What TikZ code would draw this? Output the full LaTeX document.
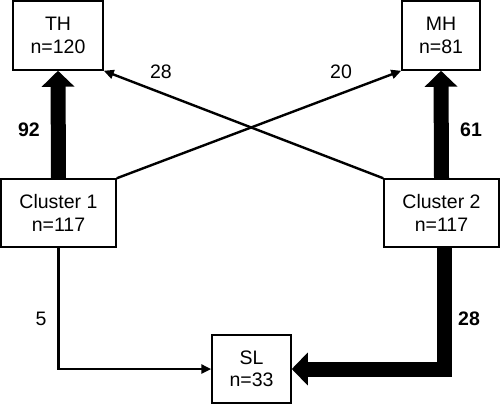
\documentclass[tikz,border=0pt]{standalone}
\usepackage{fontspec}
\setmainfont{Liberation Sans}
\usetikzlibrary{arrows.meta}
\begin{document}
\begin{tikzpicture}[x=1pt,y=-1pt,
  font=\fontsize{19.5}{22.5}\selectfont,
  box/.style={draw,line width=1.5pt,align=center,inner sep=0pt,fill=white},
  thin/.style={line width=2.4pt,-{Triangle[length=10pt,width=9pt]}},
  thick/.style={line width=15pt,line join=miter,-{Triangle[length=16pt,width=32pt]}},
  lab/.style={inner sep=0pt}]
\useasboundingbox (0,0) rectangle (500,405);
\node[box,minimum width=90pt,minimum height=69pt] (TH) at (58,35.5) {TH\\n=120};
\node[box,minimum width=78pt,minimum height=69pt] (MH) at (441,35.5) {MH\\n=81};
\node[box,minimum width=115pt,minimum height=68pt] (C1) at (58.5,213) {Cluster 1\\n=117};
\node[box,minimum width=115pt,minimum height=68pt] (C2) at (441.5,213) {Cluster 2\\n=117};
\node[box,minimum width=79pt,minimum height=68pt] (SL) at (251.5,369) {SL\\n=33};
\draw[thin] (C1.north east) -- (MH.south west);
\draw[thin] (C2.north west) -- (TH.south east);
\draw[thick] (C1.north) -- (TH.south);
\draw[thick] (C2.north) -- (MH.south);
\draw[thin] (C1.south) |- (SL.west);
\draw[thick] (C2.south) ++(2.5,0) coordinate (c2b) |- (SL.east);
\node[lab] (l28a) at (161,72) {28};
\node[lab] (l20) at (341,72) {20};
\node[lab,font=\fontsize{19.5}{22.5}\selectfont\bfseries] (l92) at (29,130) {92};
\node[lab,font=\fontsize{19.5}{22.5}\selectfont\bfseries] (l61) at (471,130) {61};
\node[lab] (l5) at (41,319) {5};
\node[lab,font=\fontsize{19.5}{22.5}\selectfont\bfseries] (l28b) at (469,319) {28};
\end{tikzpicture}
\end{document}
